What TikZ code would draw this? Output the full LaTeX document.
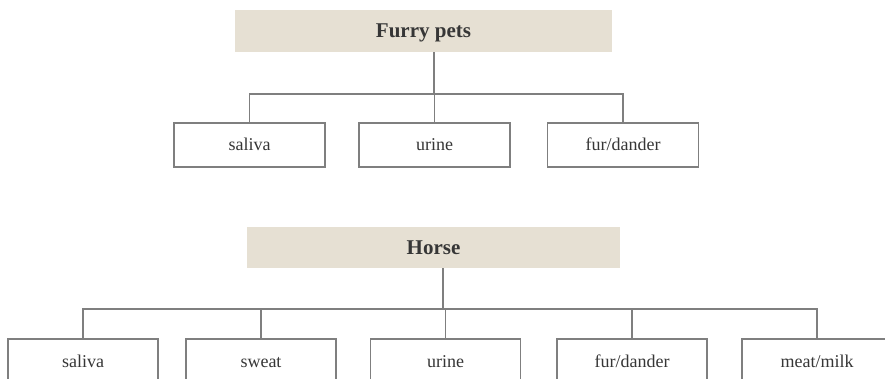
\documentclass[tikz,border=0pt]{standalone}
\usepackage{fontspec}
\setmainfont{Liberation Serif}
\usepackage{xcolor}
\usepackage{tikz}
\usetikzlibrary{positioning}
\definecolor{headfill}{HTML}{E6E0D3}
\definecolor{linegray}{HTML}{7F7F7F}
\definecolor{textgray}{HTML}{363636}

\begin{document}
\begin{tikzpicture}[x=1pt, y=1pt,
   head/.style={fill=headfill, minimum height=42pt, inner sep=0pt, text=textgray,
     text height=16pt, text depth=2pt, font=\fontsize{21}{24}\selectfont\bfseries},
   leaf/.style={draw=linegray, line width=1.2pt, fill=white, minimum width=151pt,
     minimum height=44pt, inner sep=0pt, text=textgray, text height=14pt, text depth=2pt,
     font=\fontsize{18}{21}\selectfont},
   link/.style={draw=linegray, line width=1.2pt}]
  \useasboundingbox (0,0) rectangle (885,378);
  \clip (0,0) rectangle (885,378);

  % furry pets
  \node[head, minimum width=377pt] (fpets) at (423.5,347) {Furry pets};
  \coordinate (ftrunk) at (434,284);
  \node[leaf] (fsaliva) at (249.5,233) {saliva};
  \node[leaf] (furine)  at (434.5,233) {urine};
  \node[leaf] (ffur)    at (623,233)   {fur/dander};
  \draw[link] (fpets.south -| ftrunk) -- (ftrunk);
  \foreach \n in {fsaliva, furine, ffur}
    \draw[link] (ftrunk) -| (\n.north);

  % horse
  \node[head, minimum width=373pt, minimum height=41pt] (horse) at (433.5,130.5) {Horse};
  \coordinate (htrunk) at (443,69);
  \node[leaf, minimum width=150pt] (hsaliva) at (83,17)    {saliva};
  \node[leaf, minimum width=150pt] (hsweat)  at (261,17)   {sweat};
  \node[leaf, minimum width=150pt] (hurine)  at (445.5,17) {urine};
  \node[leaf, minimum width=150pt] (hfur)    at (632,17)   {fur/dander};
  \node[leaf, minimum width=150pt] (hmeat)   at (817,17)   {meat/milk};
  \draw[link] (horse.south -| htrunk) -- (htrunk);
  \foreach \n in {hsaliva, hsweat, hurine, hfur, hmeat}
    \draw[link] (htrunk) -| (\n.north);
\end{tikzpicture}
\end{document}
